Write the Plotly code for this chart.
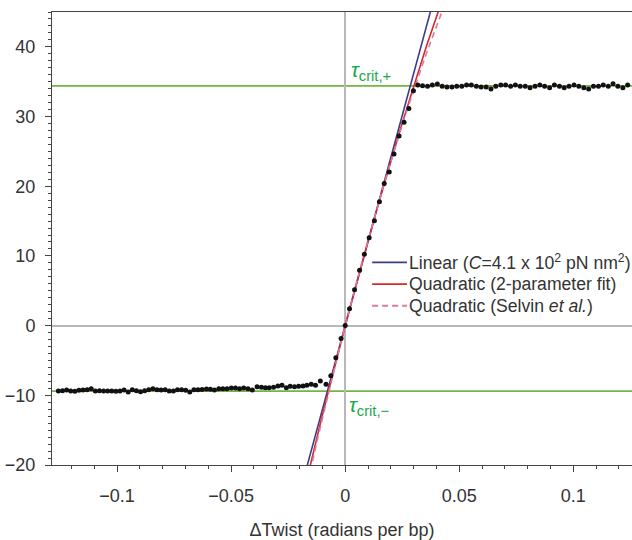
import numpy as np
import plotly.graph_objects as go

# Measured torque (pN nm) versus change in twist (radians per bp)
twist = [
    -0.1257, -0.1239, -0.1221, -0.1203, -0.1185, -0.1167, -0.1149, -0.1131, -0.1113, -0.1095,
    -0.1077, -0.1059, -0.1041, -0.1023, -0.1005, -0.0987, -0.0969, -0.0951, -0.0933, -0.0915,
    -0.0897, -0.0879, -0.0861, -0.0843, -0.0825, -0.0807, -0.0789, -0.0771, -0.0753, -0.0735,
    -0.0717, -0.0699, -0.0681, -0.0663, -0.0645, -0.0627,
    -0.0608, -0.0591, -0.0573, -0.0554, -0.0536, -0.0518, -0.0499, -0.0481, -0.0463, -0.0445,
    -0.0426, -0.0407, -0.0386, -0.0367, -0.0350, -0.0333, -0.0314, -0.0295, -0.0277, -0.0258,
    -0.0241, -0.0222, -0.0204, -0.0185, -0.0168, -0.0149, -0.0130, -0.0109, -0.0084,
    -0.0063, -0.0041, -0.0018, 0.0000, 0.0019, 0.0041, 0.0063, 0.0084, 0.0105, 0.0128,
    0.0150, 0.0171, 0.0193, 0.0214, 0.0236, 0.0258, 0.0279, 0.0299,
    0.0318, 0.0339, 0.0361, 0.0382, 0.0404, 0.0425, 0.0446, 0.0468, 0.0489, 0.0511,
    0.0532, 0.0553, 0.0575, 0.0596, 0.0618, 0.0639, 0.0660, 0.0682, 0.0703, 0.0725,
    0.0746, 0.0767, 0.0789, 0.0810, 0.0832, 0.0853, 0.0874, 0.0896, 0.0917, 0.0939,
    0.0960, 0.0981, 0.1003, 0.1024, 0.1046, 0.1067, 0.1088, 0.1110, 0.1131, 0.1153,
    0.1174, 0.1195, 0.1217, 0.1238,
]
torque = [
    -9.38, -9.33, -9.24, -9.38, -9.43, -9.29, -9.24, -9.19, -9.05, -9.38,
    -9.33, -9.38, -9.38, -9.38, -9.43, -9.38, -9.24, -9.52, -9.19, -9.33,
    -9.48, -9.33, -9.19, -9.05, -9.19, -9.24, -9.19, -9.38, -9.38, -9.19,
    -9.19, -9.29, -9.52, -9.19, -9.19, -9.15,
    -9.10, -9.14, -9.24, -9.05, -9.05, -9.05, -8.95, -8.95, -9.05, -8.95,
    -9.05, -9.24, -8.76, -8.86, -8.90, -8.90, -8.86, -8.67, -8.57, -8.90,
    -8.71, -8.76, -8.71, -8.67, -8.57, -8.43, -8.57, -7.95, -8.40,
    -7.19, -4.61, -1.86, 0.00, 2.43, 5.14, 7.96, 10.24, 12.61, 15.04,
    17.76, 20.39, 22.04, 24.61, 27.19, 29.19, 31.14, 33.71,
    34.52, 34.43, 34.33, 34.52, 34.67, 34.33, 34.24, 34.24, 34.33, 34.33,
    34.52, 34.52, 34.33, 34.24, 34.24, 33.95, 34.33, 34.52, 34.52, 34.33,
    34.52, 34.33, 34.33, 34.14, 34.33, 34.52, 34.33, 34.14, 34.52, 34.33,
    34.14, 34.33, 34.52, 34.33, 34.14, 33.95, 34.33, 34.33, 34.52, 34.33,
    34.71, 34.33, 34.14, 34.52,
]

# Critical torques (plateaus)
TAU_CRIT_PLUS = 34.4
TAU_CRIT_MINUS = -9.4

# Fit models: torque = a*dTw + b*dTw^2
C_TWIST = 410.0          # pN nm^2
RISE = 0.34              # nm per bp
LINEAR = (C_TWIST / RISE, 0.0)
QUAD_FIT = (1250.0, -3500.0)
QUAD_SELVIN = (1280.0, -5120.0)

fit_names = [
    "Linear (<i>C</i>=4.1 x 10<sup>2</sup> pN nm<sup>2</sup>)",
    "Quadratic (2-parameter fit)",
    "Quadratic (Selvin <i>et al.</i>)",
]
fit_params = [LINEAR, QUAD_FIT, QUAD_SELVIN]
fit_colors = ["#3c3c8c", "#d42a2a", "#d97ba0"]
fit_dashes = ["solid", "solid", "6px,4px"]

# Axis ticks
x_tickvals = [-0.1, -0.05, 0, 0.05, 0.1]
x_ticktext = ["\u22120.1", "\u22120.05", "0", "0.05", "0.1"]
y_tickvals = [-20, -10, 0, 10, 20, 30, 40]
y_ticktext = ["\u221220", "\u221210", "0", "10", "20", "30", "40"]

FONT = "Liberation Sans, Arial, Helvetica, sans-serif"
TEXT = "#333333"
AXIS = "#444444"
GREEN_LINE = "#72b642"
GREEN_TEXT = "#16a948"

fit_x = np.linspace(-0.022, 0.048, 141)

fig = go.Figure()

# Fit curves
for name, (a, b), color, dash in zip(fit_names, fit_params, fit_colors, fit_dashes):
    fig.add_trace(go.Scatter(
        x=fit_x, y=a * fit_x + b * fit_x ** 2, mode="lines",
        line=dict(color=color, width=1.6, dash=dash),
        name=name, showlegend=False,
    ))

# Measured points
fig.add_trace(go.Scatter(
    x=twist, y=torque, mode="markers",
    marker=dict(color="#111111", size=5, line=dict(width=0)),
    showlegend=False,
))

# Critical torque lines
for tau in (TAU_CRIT_PLUS, TAU_CRIT_MINUS):
    fig.add_shape(type="line", xref="paper", x0=0, x1=1, yref="y", y0=tau, y1=tau,
                  line=dict(color=GREEN_LINE, width=1.8), layer="below")

fig.add_annotation(x=0.0015, y=TAU_CRIT_PLUS, xanchor="left", yanchor="bottom",
                   text="<i>\u03c4</i><sub>crit,+</sub>", showarrow=False,
                   font=dict(family=FONT, size=21, color=GREEN_TEXT))
fig.add_annotation(x=0.0010, y=TAU_CRIT_MINUS, xanchor="left", yanchor="top",
                   text="<i>\u03c4</i><sub>crit,\u2212</sub>", showarrow=False,
                   font=dict(family=FONT, size=21, color=GREEN_TEXT))

# Key for the fit curves (sample line + label per row)
KEY_X0, KEY_X1, KEY_TEXT_X = 0.552, 0.612, 0.6135
KEY_ROWS = [0.4475, 0.3995, 0.3515]
for name, color, dash, ky in zip(fit_names, fit_colors, fit_dashes, KEY_ROWS):
    fig.add_shape(type="line", xref="paper", yref="paper",
                  x0=KEY_X0, x1=KEY_X1, y0=ky, y1=ky,
                  line=dict(color=color, width=1.8, dash=dash))
    fig.add_annotation(xref="paper", yref="paper", x=KEY_TEXT_X, y=ky,
                       xanchor="left", yanchor="middle", text=name, showarrow=False,
                       borderpad=0, font=dict(family=FONT, size=17.6, color=TEXT))

fig.update_xaxes(
    range=[-0.1285, 0.1257],
    tickvals=x_tickvals, ticktext=x_ticktext,
    ticks="outside", ticklen=6, tickwidth=1, tickcolor=AXIS,
    minor=dict(dtick=0.01, tick0=0, ticks="outside", ticklen=3, tickcolor=AXIS),
    showline=True, linecolor=AXIS, linewidth=1, mirror=True,
    showgrid=False, zeroline=True, zerolinecolor="#b8b8b8", zerolinewidth=1.5,
    tickfont=dict(family=FONT, size=18, color=TEXT), ticklabelstandoff=8,
    title=dict(text="\u0394Twist (radians per bp)", standoff=22,
               font=dict(family=FONT, size=18, color=TEXT)),
)
fig.update_yaxes(
    range=[-20, 45],
    tickvals=y_tickvals, ticktext=y_ticktext,
    ticks="outside", ticklen=6, tickwidth=1, tickcolor=AXIS,
    minor=dict(dtick=1, tick0=0, ticks="outside", ticklen=3, tickcolor=AXIS),
    showline=True, linecolor=AXIS, linewidth=1,
    showgrid=False, zeroline=True, zerolinecolor="#b8b8b8", zerolinewidth=1.5,
    tickfont=dict(family=FONT, size=18, color=TEXT), ticklabelstandoff=6,
)

fig.update_layout(
    width=632, height=540,
    margin=dict(l=52, r=0, t=12, b=70),
    paper_bgcolor="white", plot_bgcolor="white",
    font=dict(family=FONT, color=TEXT),
    showlegend=False,
)

fig.write_html("out.html")
